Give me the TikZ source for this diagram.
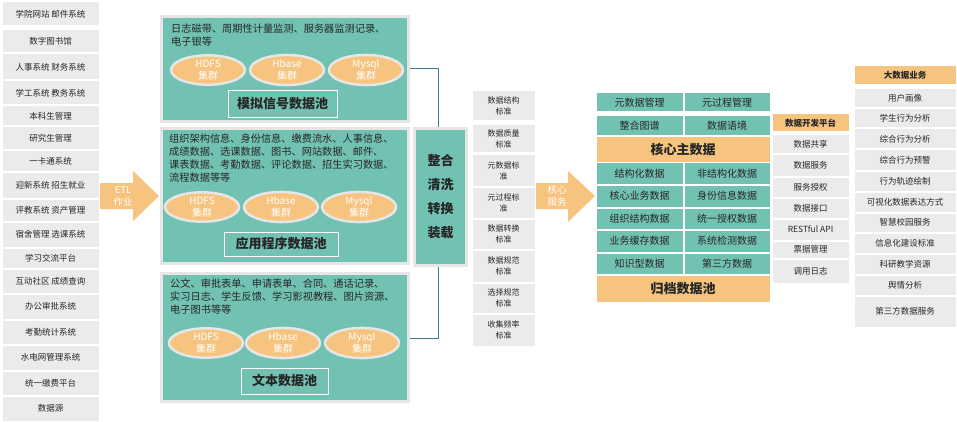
\documentclass[tikz,border=0pt]{standalone}
\usepackage{fontspec}
\setmainfont{Noto Sans CJK SC}
\usepackage{xcolor}
\usepackage{tikz}
\usetikzlibrary{positioning,shapes.geometric}
\definecolor{poolteal}{HTML}{72C2B3}
\definecolor{tagorange}{HTML}{F6C47F}
\definecolor{srcgray}{HTML}{EBEBEB}
\definecolor{rimgray}{HTML}{E6E6E6}
\definecolor{linkblue}{HTML}{3D7D8E}
\definecolor{inkdark}{HTML}{262626}

\begin{document}
\begin{tikzpicture}[x=1pt, y=-1pt, text=inkdark,
    font=\fontsize{8.5}{10}\selectfont,
    srcbox/.style={fill=srcgray, draw=white, line width=1pt, inner sep=0pt, align=center},
    pool/.style={fill=poolteal, draw=rimgray, line width=3pt, minimum width=247},
    pooltext/.style={anchor=north west, inner sep=0pt, align=left,
                     font=\fontsize{10.2}{13}\selectfont},
    oval/.style={ellipse, fill=tagorange, draw=rimgray, line width=2.5pt, inner sep=0pt,
                 minimum width=74, minimum height=26, text=white, align=center,
                 font=\fontsize{10}{12.5}\selectfont},
    poolname/.style={draw=white, line width=0.8pt, inner sep=0pt,
                     font=\fontsize{13}{15}\selectfont\bfseries},
    cell/.style={fill=poolteal, draw=white, line width=1pt, inner sep=0pt,
                 font=\fontsize{10}{12}\selectfont},
    band/.style={fill=tagorange, draw=white, line width=1pt, inner sep=0pt,
                 font=\fontsize{13}{15}\selectfont\bfseries},
    arrowtext/.style={text=white, align=center, inner sep=0pt,
                      font=\fontsize{9.5}{12}\selectfont}]
  \useasboundingbox[fill=white] (0,0) rectangle (957,422);

  % data sources
  \foreach \t/\b/\txt [count=\i] in {2/26/学院网站 邮件系统, 30/53/数字图书馆,
      54/80/人事系统 财务系统, 81/105/学工系统 教务系统, 106/126/本科生管理,
      127/150/研究生管理, 151/171/一卡通系统, 172/198/迎新系统 招生就业,
      199/221/评教系统 资产管理, 222/247/宿舍管理 选课系统, 248/268/学习交流平台,
      269/293/互动社区 成绩查询, 294/319/办公审批系统, 320/344/考勤统计系统,
      345/370/水电网管理系统, 371/395/统一缴费平台, 396/421/数据源}
    \node[srcbox, minimum width=97, minimum height={(\b-\t)*1pt}]
          (src\i) at (50.5,{(\t+\b)/2}) {\txt};

  \fill[tagorange] (100,183) -- (133,183) -- (133,171) -- (159,196)
        -- (133,221) -- (133,209) -- (100,209) -- cycle;
  \node[arrowtext] (etl) at (123,196) {ETL\\作业};

  % three pools
  \draw[linkblue, line width=1pt] (285,69) ++(125,0) -- ++(28,0) |- (410,338);
  \node[pool, minimum height=105] (pool1) at (285,69) {};
  \node[pool, minimum height=135] (pool2) at (285,196) {};
  \node[pool, minimum height=128] (pool3) at (285,337.5) {};
  \node[pooltext] (info1) at (171,24)
        {日志磁带、周期性计量监测、服务器监测记录、\\电子银等};
  \node[pooltext] (info2) at (169,134)
        {组织架构信息、身份信息、缴费流水、人事信息、\\成绩数据、选课数据、图书、网站数据、邮件、\\
         课表数据、考勤数据、评论数据、招生实习数据、\\流程数据等等};
  \node[pooltext] (info3) at (170,279)
        {公文、审批表单、申请表单、合同、通话记录、\\实习日志、学生反馈、学习影视教程、图片资源、\\
         电子图书等等};
  \foreach \p/\y/\a/\b/\c in {1/70/208/287/366, 2/207/202/281/359, 3/343/206/283/362} {
    \node[oval] (hdfs\p) at (\a,\y) {HDFS\\集群};
    \node[oval] (hbase\p) at (\b,\y) {Hbase\\集群};
    \node[oval] (mysql\p) at (\c,\y) {Mysql\\集群};
  }
  \node[poolname, minimum width=109, minimum height=27] (name1) at (282.5,103.5) {模拟信号数据池};
  \node[poolname, minimum width=114, minimum height=24] (name2) at (281,244) {应用程序数据池};
  \node[poolname, minimum width=87, minimum height=26] (name3) at (284.5,381) {文本数据池};

  \node[fill=poolteal, draw=rimgray, line width=3pt, minimum width=52, minimum height=137,
        inner sep=0pt, align=center, font=\fontsize{13}{24}\selectfont\bfseries]
        (merge) at (440.5,197) {整合\\清洗\\转换\\装载};

  % standards
  \foreach \t/\b/\txt [count=\i] in {91/121/数据结构\\标准, 125/153/数据质量\\标准,
      155/186/元数据标\\准, 187/218/元过程标\\准, 219/249/数据转换\\标准,
      250/282/数据规范\\标准, 283/313/选择规范\\标准, 314/346/收集频率\\标准}
    \node[srcbox, minimum width=63, minimum height={(\b-\t)*1pt},
          font=\fontsize{8}{11}\selectfont] (std\i) at (503.5,{(\t+\b)/2}) {\txt};

  \fill[tagorange] (536,183) -- (568,183) -- (568,171) -- (595,196)
        -- (568,222) -- (568,209) -- (536,209) -- cycle;
  \node[arrowtext] (core) at (557,196) {核心\\服务};

  % core data
  \foreach \t/\b/\l/\r [count=\i] in {93/112/元数据管理/元过程管理, 116/136/整合图谱/数据语境,
      163/184/结构化数据/非结构化数据, 185/207/核心业务数据/身份信息数据,
      208/229/组织结构数据/统一授权数据, 230/252/业务缓存数据/系统检测数据,
      253/274/知识型数据/第三方数据} {
    \node[cell, minimum width=87, minimum height={(\b-\t)*1pt}] (cl\i) at (639.5,{(\t+\b)/2}) {\l};
    \node[cell, minimum width=86, minimum height={(\b-\t)*1pt}] (cr\i) at (727,{(\t+\b)/2}) {\r};
  }
  \node[band, minimum width=174, minimum height=26] (master) at (683,149.5) {核心主数据};
  \node[band, minimum width=174, minimum height=27] (archive) at (683,288.5) {归档数据池};

  % dev platform
  \node[srcbox, fill=tagorange, minimum width=77, minimum height=18,
        font=\fontsize{8.5}{10}\selectfont\bfseries] (devhead) at (810.5,123) {数据开发平台};
  \foreach \t/\b/\txt [count=\i] in {135/154/数据共享, 155/176/数据服务, 177/197/服务授权,
      198/218/数据接口, 219/240/RESTful API, 241/258/票据管理, 259/283/调用日志}
    \node[srcbox, minimum width=77, minimum height={(\b-\t)*1pt}] (dev\i) at (810.5,{(\t+\b)/2}) {\txt};

  % big data business
  \node[srcbox, fill=tagorange, minimum width=102, minimum height=19,
        font=\fontsize{8.5}{10}\selectfont\bfseries] (bizhead) at (905,75.5) {大数据业务};
  \foreach \t/\b/\txt [count=\i] in {89/108/用户画像, 109/128/学生行为分析, 129/149/综合行为分析,
      150/170/综合行为预警, 171/191/行为轨迹绘制, 192/212/可视化数据表达方式,
      213/232/智慧校园服务, 233/253/信息化建设标准, 254/274/科研教学资源,
      275/295/舆情分析, 296/327/第三方数据服务}
    \node[srcbox, minimum width=102, minimum height={(\b-\t)*1pt}] (biz\i) at (905,{(\t+\b)/2}) {\txt};
\end{tikzpicture}
\end{document}
